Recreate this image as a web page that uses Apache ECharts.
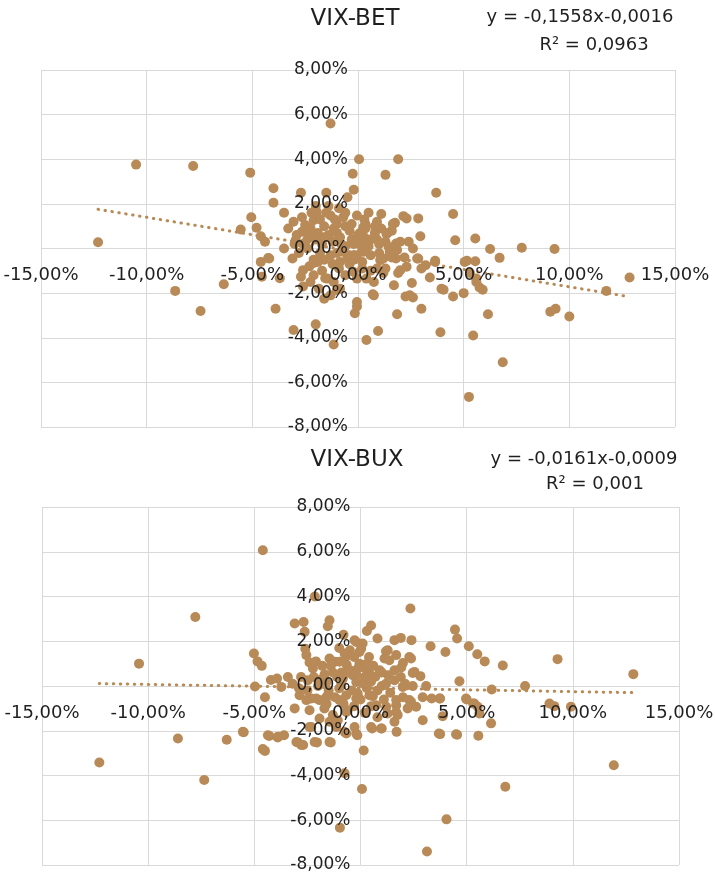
<!DOCTYPE html>
<html>
<head>
<meta charset="utf-8">
<script src="https://cdn.jsdelivr.net/npm/echarts@6/dist/echarts.min.js"></script>
<style>
html,body{margin:0;padding:0;background:#fff;}
#c{width:715px;height:873px;}
</style>
</head>
<body>
<div id="c"></div>
<script>
// Titles and regression labels
const titles = ['VIX-BET', 'VIX-BUX'];
const equations = ['y = -0,1558x-0,0016', 'y = -0,0161x-0,0009'];
const rSquared = ['R² = 0,0963', 'R² = 0,001'];
// trend coefficients (slope, intercept in fraction)
const trendSlope = [-0.1558, -0.0161];
const trendIntercept = [-0.0016, -0.0009];

// axis ranges (percent)
const xMin = -15, xMax = 15, xStep = 5;
const yMin = -8, yMax = 8, yStep = 2;

// VIX-BET: [VIX change %, BET change %]
const betData = [
[-12.3,0.28],[-10.5,3.76],[-7.8,3.7],[-8.65,-1.9],[-7.45,-2.8],[-6.35,-1.6],[-5.1,3.4],[-5.55,0.85],[-5.05,1.4],[-4.8,0.93],[-4.6,0.55],[-4.4,0.3],[-4.0,2.7],[-4.0,2.05],[-3.5,1.6],[-3.05,1.2],[-2.7,2.5],[-1.5,2.5],[-0.2,2.63],[-0.5,2.3],[-0.25,3.35],[0.05,4.0],[1.9,4.0],[1.3,3.3],[3.7,2.5],[-1.3,5.6],
[-4.6,-0.6],[-4.2,-0.45],[-3.5,0],[-3.1,-0.45],[-2.4,0],[-2.1,-0.5],[-1.6,-0.5],[-2.7,-1.27],[-2.25,-1.5],[-1.85,-1.8],[-1.45,-1.35],[-1.3,-2.1],[-0.85,-1.8],[-3.9,-2.7],[-3.05,-3.65],[-2.0,-3.4],[-1.15,-4.3],[-1.6,-2.25],
[-2.95,0.37],[-4.25,-0.43],[-2.1,-0.65],[-2.1,-1.2],[-2.6,-0.97],[-1.55,-1.33],[-1.15,-1.5],[-4.55,-1.27],[-3.7,-1.33],[-2.6,-1.7],[-1.0,-1.86],
[0.5,1.6],[1.1,1.55],[2.15,1.45],[2.3,1.35],[2.85,1.35],[4.5,1.55],[0.35,1.1],[0.35,0.9],[1.75,1.15],[1.6,0.8],[1.35,0.65],[2.95,0.55],[4.6,0.37],[5.55,0.45],[0.6,0.4],[0.0,0.22],[2.0,0.3],[2.4,0.3],[6.25,-0.02],[7.75,0.03],[9.3,-0.02],[1.45,0.07],[1.85,-0.07],[0.2,-0.07],[1.05,-0.52],[2.85,-0.45],[3.65,-0.55],[3.2,-0.75],[5.15,-0.55],[5.55,-0.57],[6.7,-0.42],[1.9,-1.1],[2.3,-0.82],[3.4,-1.3],[5.3,-1.1],[5.6,-1.5],[5.75,-1.75],[3.95,-1.8],[2.55,-1.55],[1.7,-1.65],[0.7,-2.05],[4.5,-2.15],[5.0,-2.0],[2.25,-2.15],[2.45,-2.1],[11.75,-1.9],[12.85,-1.3],
[-2.65,1.4],[-2.5,1.05],[-2.25,0.93],[-2.65,0.75],[-1.95,1.63],[-2.1,1.27],[-1.3,1.48],[-1.0,1.1],[-0.7,1.4],[-0.05,1.48],[-1.15,0.9],[-0.85,0.5],[-0.4,0.8],[0.25,0.95],[0.3,0.5],[1.65,1.1],[0.55,0.37],[1.8,0.22],
[-0.85,-0.6],[-0.7,-0.15],[-0.5,-0.45],[-0.05,-0.3],[0.25,-0.15],[-0.2,-1.05],[-0.05,-1.35],[0.4,-1.35],[0.9,-0.9],[0.75,-1.5],[0.75,-2.1],[-0.05,-2.4],[-0.05,-2.6],[-0.15,-2.9],[0.4,-4.1],[0.95,-3.7],[1.2,-0.45],[1.5,-0.15],[1.8,-0.45],[2.0,-0.97],[2.8,-0.45],[3.0,-0.9],[1.85,-2.95],[3.0,-2.7],[3.65,-0.6],[5.05,-0.6],[5.6,-1.35],[3.9,-3.75],[5.45,-3.9],[6.15,-2.95],
[6.85,-5.1],[5.25,-6.65],[9.1,-2.83],[9.35,-2.7],[10.0,-3.05],[5.9,-1.85],[4.05,-1.85],[2.6,-2.2],
[-2.9,0.6],[-2.4,0.4],[-1.9,0.7],[-1.7,0.2],[-1.2,0.3],[-0.6,0.1],[-0.3,0.4],[0.1,0.7],[0.5,0.1],[0.9,0.4],[1.1,0.9],[-1.8,-0.2],[-1.3,-0.3],[-0.9,-0.9],[-0.4,-0.7],[0.2,-0.6],[0.6,-0.3],[1.0,0.2],[-2.0,1.9],[-1.6,1.0],[-0.9,1.8],[-0.3,1.1],[0.0,0.6],[-2.6,0.2],[-3.3,0.9],[-2.3,-0.8],[-1.4,0.6],[-1.0,-0.2],[0.3,1.3],[0.9,1.2],[-0.6,-1.2],[-1.7,-1.0],[1.3,-0.9],[0.6,-1.0],
[-2.2,1.6],[-1.8,1.3],[-1.4,1.9],[-1.1,1.3],[-0.6,1.0],[-2.3,0.7],[-1.6,0.5],[-0.8,0.2],[-0.2,0.2],[0.4,0.2],[0.8,0.7],[1.3,0.3],[1.6,-0.4],[1.2,-1.1],[0.2,-0.9],[-0.4,-0.3],[-1.2,-0.7],[-1.9,-0.6],[-2.8,-0.2],[-3.0,0.2],[-2.0,0.4],[-1.5,1.6],[-0.6,1.6],[0.8,1.0],[1.4,0.7],[2.6,0.0],[2.2,-0.4],[1.0,-0.2],[-0.2,-0.5],[-1.0,0.7]
];

// VIX-BUX: [VIX change %, BUX change %]
const buxData = [
[-12.3,-3.42],[-10.43,1.0],[-7.78,3.08],[-8.6,-2.35],[-7.36,-4.2],[-6.3,-2.4],[-5.5,-2.07],[-4.5,-2.9],[-4.3,-2.23],[-3.9,-2.3],[-3.6,-2.2],[-2.95,-2.52],[-2.7,-2.64],[-2.05,-2.52],[-1.4,-2.52],[-0.75,-3.9],[-0.97,-6.33],[0.07,-4.6],[0.15,-2.88],[-0.15,-2.2],[0.55,-1.9],[1.0,-1.9],[1.7,-2.05],[3.13,-7.4],[4.05,-5.96],[3.75,-2.15],[4.55,-2.18],[5.55,-2.22],[6.82,-4.5],[11.93,-3.54],
[-4.6,6.07],[-2.15,4.0],
[12.85,0.53],[9.28,1.2],[7.75,0.0],[8.9,-0.78],[9.13,-0.9],[9.91,-0.93],[6.18,-0.16],[6.15,-1.67],[6.7,0.92],[5.85,1.1],[5.5,1.42],[5.1,1.78],[4.45,2.52],[4.55,2.12],[4.0,1.52],[3.3,1.78],[2.35,3.46],[4.66,0.21],[5.0,-0.6],[5.3,-0.78],[5.52,-0.93],[5.6,-1.23],[3.87,-1.35],[2.93,-1.53],[3.75,-0.56],[3.35,-0.56],[2.93,-0.5],[2.3,-0.63],[2.38,-0.71],
[0.5,2.7],[0.3,2.46],[0.8,2.12],[-0.2,1.97],[0.1,1.9],[0.03,1.67],[1.6,2.05],[1.9,2.15],[2.4,2.05],[1.28,1.6],[1.68,1.38],[1.13,1.23],[2.3,1.3],[2.0,1.03],[1.92,0.83],[-0.05,1.0],[0.42,0.56],[0.7,0.41],[1.3,0.48],[1.6,0.26],[2.46,0.58],[2.82,0.44],[3.09,0.0],[2.46,0.0],[1.99,-0.04],[-0.13,-0.34],[0.58,-0.46],[1.68,-0.86],[2.22,-1.0],[2.62,-0.93],[1.75,-1.3],[1.28,-1.23],[-0.2,-2.12],[1.2,1.55],[1.36,1.15],[2.38,1.23],[2.54,0.63],[-0.05,1.52],
[-5.02,1.45],[-4.85,1.1],[-4.65,0.9],[-4.97,-0.02],[-4.5,-0.5],[-4.22,0.27],[-3.93,0.33],[-3.42,0.4],[-3.73,-0.04],[-3.1,2.79],[-2.68,2.86],[-2.63,2.42],[-1.46,2.94],[-1.54,2.67],[-0.8,2.29],[-0.28,2.04],[-2.6,1.67],[-2.55,1.38],[-2.4,1.05],[-2.24,0.78],[-1.46,1.23],[-1.2,1.08],[-0.99,1.08],[-0.7,1.3],[-0.65,0.95],[-0.75,1.45],[-1.69,0.52],[-2.48,0.26],[-1.96,0.26],[-0.83,0.33],[-0.36,0.48],[-0.13,0.78],[-1.6,0.18],[-0.2,0.18],[0.11,0.11],
[-2.87,-0.41],[-2.32,-0.56],[-1.93,-0.63],[-1.54,-0.41],[-0.99,-0.63],[-0.67,-0.41],[-3.1,-1.0],[-0.6,-1.08],[-1.3,-1.3],[-2.32,-1.83],[-1.14,-1.83],[-4.36,-2.2],[-0.28,-1.83],[-0.67,-2.12],[-2.55,-0.63],[-2.08,-0.56],[-1.6,-0.49],[-2.4,-1.08],[-1.93,-1.45],[-1.46,-1.6],[-1.07,-1.53],[-0.67,-1.16],[-0.75,-2.05],[-2.4,-1.83],[-1.46,-2.5],[-2.16,-2.5],[-3.02,-2.5],[-2.79,-2.64],[-3.89,-2.27],[-5.54,-2.05],[-4.6,-2.82],
[0.5,-1.83],[0.97,-1.9],[1.6,-1.6],[-0.2,-0.56],[0.42,-0.41],[0.74,-0.86],[1.21,-0.93],[1.68,-1.16],[1.68,-0.63],[3.72,-0.56],[3.69,-2.12],[4.5,-2.16],[4.97,-0.56],[5.36,-0.78],
[-1.8,0.9],[-1.3,0.6],[-0.9,0.1],[-0.5,0.7],[0.2,0.4],[0.6,0.9],[1.0,0.0],[-1.5,-0.2],[-1.0,-0.1],[-0.4,-0.2],[0.3,-0.1],[0.8,-0.2],[1.4,-0.3],[-2.0,0.0],[-2.8,0.4],[-3.2,0.1],[-0.3,-0.9],[0.2,-1.2],[0.8,-1.4],[-1.7,-1.0],[-1.0,1.7],[-0.5,1.6],[0.4,1.3],[0.9,0.7],[-2.9,-0.1],[1.2,0.1],
[-2.2,0.4],[-1.8,0.3],[-1.4,0.9],[-1.1,0.4],[-0.6,0.6],[-0.2,0.5],[0.2,0.8],[0.5,0.2],[1.0,0.6],[1.6,0.7],[1.9,0.4],[-2.5,-0.2],[-1.2,-0.5],[-0.8,-0.8],[0.0,-0.6],[0.5,-0.9],[1.1,-0.6],[2.0,-0.5],[-1.6,-0.8],[-0.3,1.3],[0.3,1.0],[-2.1,1.1],[2.1,0.1],[-0.9,0.6]
];

const datasets = [betData, buxData];
const dotColor = '#b88a57';
const gridColor = '#d9d9d9';
const textColor = '#1f1f1f';
const fontFam = '"DejaVu Sans", sans-serif';

const pct = v => v.toFixed(2).replace('.', ',') + '%';

function trendLine(i) {
  const xs = datasets[i].map(d => d[0]);
  const lo = Math.min.apply(null, xs), hi = Math.max.apply(null, xs);
  const f = x => trendSlope[i] * x + trendIntercept[i] * 100;
  return [[lo, f(lo)], [hi, f(hi)]];
}

// plot boxes of the two charts (pixels)
const boxes = [
  {left: 41, top: 70, width: 634, height: 357},
  {left: 42, top: 507, width: 637, height: 358}
];

const grid = [], xAxis = [], yAxis = [], series = [];
const baseGrid = {outerBoundsMode: 'none', containLabel: false};

boxes.forEach((b, g) => {
  // share of the box above y = 0 and left of x = 0
  const yZeroFrac = (yMax - 0) / (yMax - yMin);
  const xZeroFrac = (0 - xMin) / (xMax - xMin);

  const gMain = grid.length;
  grid.push(Object.assign({}, baseGrid, b));
  const gX = grid.length;
  grid.push(Object.assign({}, baseGrid, {left: b.left, width: b.width, top: b.top, height: b.height * yZeroFrac}));
  const gY = grid.length;
  grid.push(Object.assign({}, baseGrid, {left: b.left + b.width * xZeroFrac, width: b.width * (1 - xZeroFrac), top: b.top, height: b.height}));

  const xi = xAxis.length, yi = yAxis.length;
  xAxis.push({
    type: 'value', gridIndex: gMain, min: xMin, max: xMax, interval: xStep, z: 0,
    axisLine: {show: false, onZero: false}, axisTick: {show: false}, axisLabel: {show: false},
    splitLine: {show: true, lineStyle: {color: gridColor, width: 1}}
  });
  yAxis.push({
    type: 'value', gridIndex: gMain, min: yMin, max: yMax, interval: yStep, z: 0,
    axisLine: {show: false, onZero: false}, axisTick: {show: false}, axisLabel: {show: false},
    splitLine: {show: true, lineStyle: {color: gridColor, width: 1}}
  });
  xAxis.push({
    type: 'value', gridIndex: gX, min: xMin, max: xMax, interval: xStep, position: 'bottom', z: 10,
    axisLine: {show: false, onZero: false}, axisTick: {show: false}, splitLine: {show: false},
    axisLabel: {show: true, formatter: pct, fontSize: 18, color: textColor, fontFamily: fontFam, margin: 18, showMinLabel: true, showMaxLabel: true}
  });
  yAxis.push({type: 'value', gridIndex: gX, min: 0, max: yMax, show: false});
  xAxis.push({type: 'value', gridIndex: gY, min: 0, max: xMax, show: false});
  yAxis.push({
    type: 'value', gridIndex: gY, min: yMin, max: yMax, interval: yStep, position: 'left', z: 10,
    axisLine: {show: false, onZero: false}, axisTick: {show: false}, splitLine: {show: false},
    axisLabel: {show: true, formatter: pct, fontSize: 17, color: textColor, fontFamily: fontFam, margin: 10, showMinLabel: true, showMaxLabel: true}
  });

  series.push({
    type: 'scatter', xAxisIndex: xi, yAxisIndex: yi, data: datasets[g],
    symbolSize: 10, itemStyle: {color: dotColor, opacity: 1}, z: 3, silent: true
  });
  series.push({
    type: 'line', xAxisIndex: xi, yAxisIndex: yi, data: trendLine(g), showSymbol: false, symbol: 'none',
    lineStyle: {color: dotColor, width: 3, type: [0.5, 6.5], cap: 'round'}, z: 4, silent: true
  });
});

const titleY = [19, 460];
const eqY = [17, 459];
const rY = [45, 484];
const titleX = [355, 357];
const eqX = [580, 584];
const rX = [594, 595];
const textEls = [];
[0, 1].forEach(g => {
  textEls.push({type: 'text', style: {text: titles[g], x: titleX[g], y: titleY[g], align: 'center', verticalAlign: 'middle', fontSize: 23, fontFamily: fontFam, fill: textColor}});
  textEls.push({type: 'text', style: {text: equations[g], x: eqX[g], y: eqY[g], align: 'center', verticalAlign: 'middle', fontSize: 18, fontFamily: fontFam, fill: textColor}});
  textEls.push({type: 'text', style: {text: rSquared[g], x: rX[g], y: rY[g], align: 'center', verticalAlign: 'middle', fontSize: 18, fontFamily: fontFam, fill: textColor}});
});

const chart = echarts.init(document.getElementById('c'), null, {renderer: 'canvas'});
chart.setOption({
  backgroundColor: '#ffffff',
  animation: false,
  grid: grid,
  xAxis: xAxis,
  yAxis: yAxis,
  series: series,
  graphic: {elements: textEls}
});
</script>
</body>
</html>
